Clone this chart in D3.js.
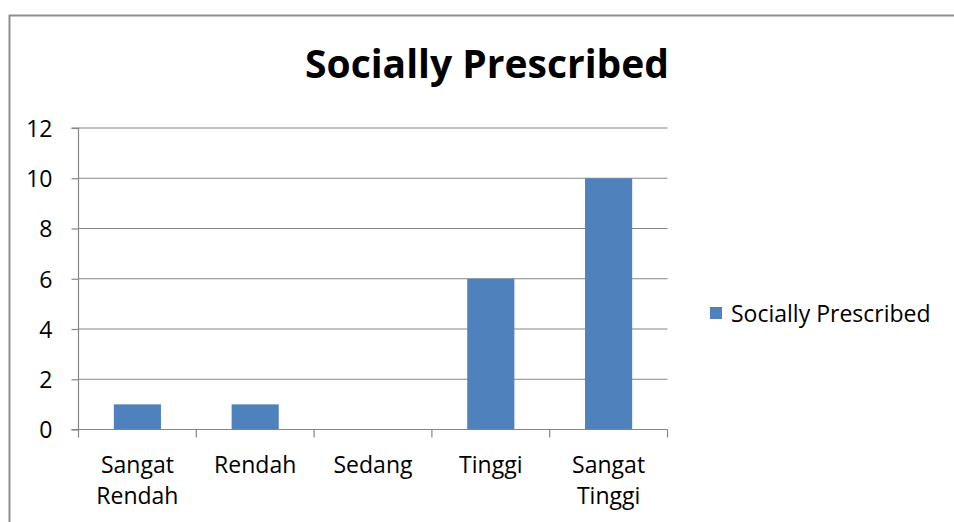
<!DOCTYPE html>
<html>
<head>
<meta charset="utf-8">
<script src="https://cdn.jsdelivr.net/npm/d3@7"></script>
<style>
  html, body { margin: 0; padding: 0; background: #fff; }
  svg { display: block; font-family: "Open Sans", Lato, sans-serif; }
</style>
</head>
<body>
<svg id="chart" width="954" height="522"></svg>
<script>
const categories = [["Sangat", "Rendah"], ["Rendah"], ["Sedang"], ["Tinggi"], ["Sangat", "Tinggi"]];
const values = [1, 1, 0, 6, 10];
const yTicks = [0, 2, 4, 6, 8, 10, 12];
const seriesName = "Socially Prescribed";
const title = "Socially Prescribed";

(function () {
const svg = d3.select("#chart");
const gray = "#868686";
const font = "'Open Sans', Lato, sans-serif";

// outer frame
svg.append("rect")
  .attr("x", 9.5).attr("y", 15.5)
  .attr("width", 1000).attr("height", 600)
  .attr("fill", "none").attr("stroke", "#8e8e8e").attr("stroke-width", 2);

const pLeft = 78.5, pRight = 667.5, pTop = 128, pBottom = 429.5;
const labels = categories.map(c => c.join(" "));

const x = d3.scaleBand().domain(labels).range([pLeft, pRight]).paddingInner(0.6).paddingOuter(0.3);
const y = d3.scaleLinear().domain([0, 12]).range([pBottom, pTop]);

// gridlines
svg.append("g").selectAll("line").data(yTicks.filter(t => t > 0)).join("line")
  .attr("x1", pLeft).attr("x2", pRight)
  .attr("y1", d => y(d)).attr("y2", d => y(d))
  .attr("stroke", gray).attr("stroke-width", 1.2);

// bars
svg.append("g").selectAll("rect").data(values).join("rect")
  .attr("x", (d, i) => x(labels[i]))
  .attr("width", x.bandwidth())
  .attr("y", d => y(d))
  .attr("height", d => y(0) - y(d))
  .attr("fill", "#4f81bd");

// y axis
const yAxis = d3.axisLeft(y).tickValues(yTicks).tickSize(7).tickPadding(19).tickFormat(d3.format("d"));
const gy = svg.append("g").attr("transform", `translate(${pLeft},0)`).call(yAxis);
gy.select(".domain").attr("stroke", gray).attr("stroke-width", 1.2).attr("d", `M-7,${pTop}H0V${pBottom}H-7`);
gy.selectAll(".tick line").attr("stroke", gray).attr("stroke-width", 1.2);
gy.selectAll(".tick text").attr("fill", "#000").style("font-size", "23px").style("font-family", font).attr("dy", "0.36em");

// x axis
const boundaries = d3.range(labels.length + 1).map(i => pLeft + i * (pRight - pLeft) / labels.length);
const gx = svg.append("g");
gx.append("line").attr("x1", pLeft).attr("x2", pRight).attr("y1", pBottom).attr("y2", pBottom)
  .attr("stroke", gray).attr("stroke-width", 1.2);
gx.selectAll("line.tk").data(boundaries).join("line").attr("class", "tk")
  .attr("x1", d => d).attr("x2", d => d).attr("y1", pBottom).attr("y2", pBottom + 8)
  .attr("stroke", gray).attr("stroke-width", 1.2);
const xt = gx.selectAll("text").data(categories).join("text")
  .attr("x", (d, i) => x(labels[i]) + x.bandwidth() / 2)
  .attr("y", 473)
  .attr("text-anchor", "middle")
  .style("font-size", "23px")
  .attr("fill", "#000");
xt.each(function(d) {
  const t = d3.select(this);
  d.forEach((line, j) => {
    t.append("tspan").attr("x", t.attr("x")).attr("dy", j === 0 ? 0 : 31).text(line);
  });
});

// title
svg.append("text").attr("x", 487).attr("y", 78).attr("text-anchor", "middle")
  .style("font-size", "39px").style("font-weight", "bold").attr("fill", "#000").text(title);

// legend
const lg = svg.append("g");
lg.append("rect").attr("x", 710).attr("y", 307).attr("width", 12).attr("height", 12).attr("fill", "#4f81bd");
lg.append("text").attr("x", 731).attr("y", 322).style("font-size", "23px").attr("fill", "#000").text(seriesName);
})();
</script>
</body>
</html>
